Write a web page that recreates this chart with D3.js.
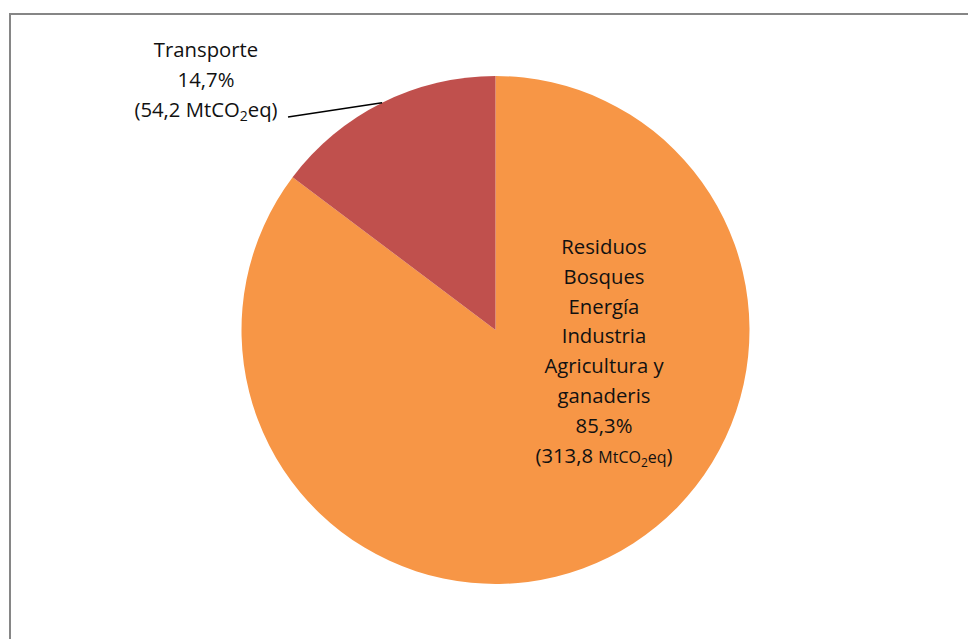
<!DOCTYPE html>
<html>
<head>
<meta charset="utf-8">
<script src="https://cdn.jsdelivr.net/npm/d3@7"></script>
<style>
  html, body { margin: 0; padding: 0; background: #fff; }
  svg { display: block; }
  text { font-family: "Open Sans", Lato, sans-serif; fill: #111; }
</style>
</head>
<body>
<svg id="chart" width="968" height="639"></svg>
<script>
// Emissions by sector (MtCO2eq)
const sectors = ["Residuos Bosques Energía Industria Agricultura y ganaderis", "Transporte"];
const values = [313.8, 54.2];
const colors = ["#F79646", "#C0504D"];
const percentLabels = ["85,3%", "14,7%"];
const valueLabels = ["313,8", "54,2"];
const otherLines = ["Residuos", "Bosques", "Energía", "Industria", "Agricultura y", "ganaderis"];

const svg = d3.select("#chart");
const cx = 495.5, cy = 330, R = 254;

// chart area frame (runs past the right and bottom edges)
svg.append("rect")
  .attr("x", 10).attr("y", 14)
  .attr("width", 1000).attr("height", 1000)
  .attr("fill", "#fff")
  .attr("stroke", "#868686")
  .attr("stroke-width", 2);

const pie = d3.pie().sort(null).value(d => d)(values);
const arc = d3.arc().innerRadius(0).outerRadius(R);

const g = svg.append("g").attr("transform", `translate(${cx},${cy})`);
g.selectAll("path")
  .data(pie)
  .join("path")
  .attr("d", arc)
  .attr("fill", (d, i) => colors[i]);

const fs = 20.3;

// label inside the large slice
const bigLabel = svg.append("text")
  .attr("text-anchor", "middle")
  .attr("font-size", fs);
const lines1 = otherLines.concat([percentLabels[0]]);
lines1.forEach((t, i) => {
  bigLabel.append("tspan").attr("x", 604).attr("y", 254 + i * 29.8).text(t);
});
const last1 = bigLabel.append("tspan").attr("x", 604).attr("y", 254 + 7 * 29.8);
last1.text("(" + valueLabels[0] + " ");
bigLabel.append("tspan").attr("font-size", 16).text("MtCO");
bigLabel.append("tspan").attr("font-size", 12).attr("dy", 4).text("2");
bigLabel.append("tspan").attr("font-size", 16).attr("dy", -4).text("eq");
bigLabel.append("tspan").text(")");

// label for the small slice, placed outside with a leader line
const smallLabel = svg.append("text")
  .attr("text-anchor", "middle")
  .attr("font-size", fs);
smallLabel.append("tspan").attr("x", 206).attr("y", 57).text(sectors[1]);
smallLabel.append("tspan").attr("x", 206).attr("y", 87).text(percentLabels[1]);
smallLabel.append("tspan").attr("x", 206).attr("y", 117).text("(" + valueLabels[1] + " MtCO");
smallLabel.append("tspan").attr("font-size", 14).attr("dy", 4).text("2");
smallLabel.append("tspan").attr("dy", -4).text("eq)");

// leader from the label to the slice edge at its mid-angle
const s = pie[1];
const mid = (s.startAngle + s.endAngle) / 2;
const ex = cx + R * Math.sin(mid), ey = cy - R * Math.cos(mid);
svg.append("path")
  .attr("d", d3.line()([[288, 117], [ex, ey]]))
  .attr("stroke", "#000")
  .attr("stroke-width", 1.5)
  .attr("fill", "none");
</script>
</body>
</html>
